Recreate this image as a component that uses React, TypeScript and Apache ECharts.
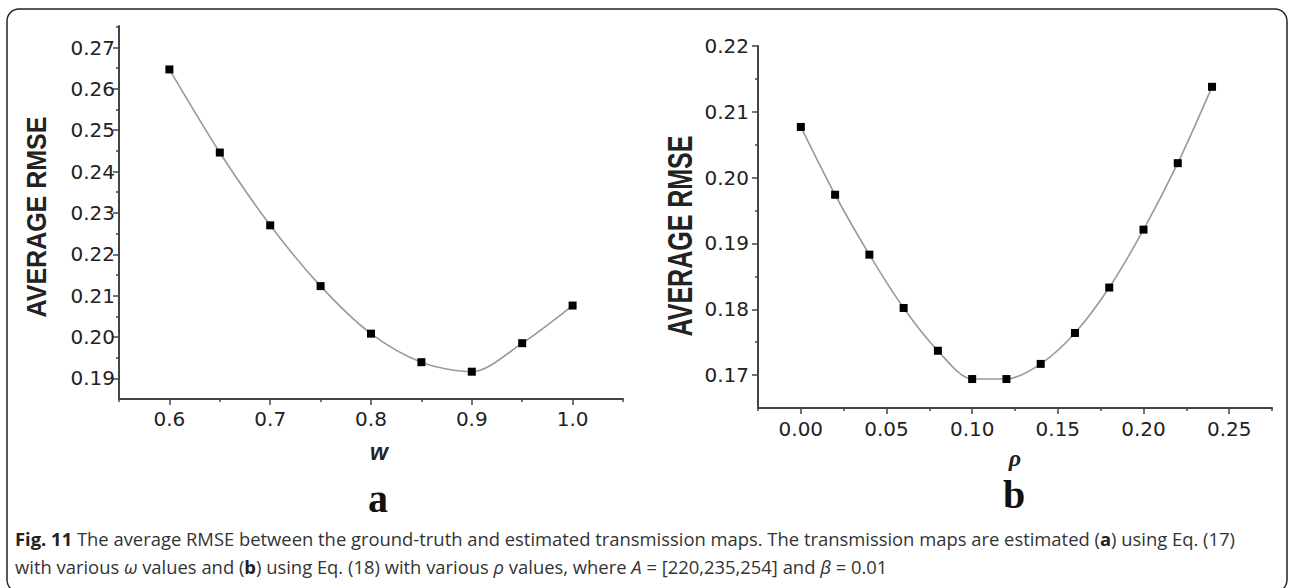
import React, { useEffect, useRef } from "react";
import * as echarts from "echarts";

// Panel (a): average RMSE against w
const wValues = [0.6, 0.65, 0.7, 0.75, 0.8, 0.85, 0.9, 0.95, 1.0];
const rmseA = [0.2647, 0.2446, 0.227, 0.2123, 0.2008, 0.1939, 0.1916, 0.1985, 0.2076];

// Panel (b): average RMSE against rho
const rhoValues = [0, 0.02, 0.04, 0.06, 0.08, 0.1, 0.12, 0.14, 0.16, 0.18, 0.2, 0.22, 0.24];
const rmseB = [0.2077, 0.1974, 0.1883, 0.1802, 0.1737, 0.1694, 0.1694, 0.1717, 0.1764, 0.1833, 0.1921, 0.2022, 0.2138];

// Tick positions
const aXMajor = [0.6, 0.7, 0.8, 0.9, 1.0];
const aXMinor = [0.55, 0.65, 0.75, 0.85, 0.95, 1.05];
const aYMajor = [0.19, 0.2, 0.21, 0.22, 0.23, 0.24, 0.25, 0.26, 0.27];
const aYMinor = [0.195, 0.205, 0.215, 0.225, 0.235, 0.245, 0.255, 0.265, 0.275];
const bXMajor = [0, 0.05, 0.1, 0.15, 0.2, 0.25];
const bXMinor = [-0.025, 0.025, 0.075, 0.125, 0.175, 0.225, 0.275];
const bYMajor = [0.17, 0.18, 0.19, 0.2, 0.21, 0.22];
const bYMinor = [0.175, 0.185, 0.195, 0.205, 0.215];

const AXIS_COLOR = "#444";
const LABEL_FONT = "DejaVu Sans";
const CAPTION_SIZE = 18.4;

const majorAxis = (
  type: "x" | "y",
  gridIndex: number,
  min: number,
  max: number,
  ticks: number[],
  digits: number,
  margin: number
) => ({
  type: "value",
  gridIndex,
  min,
  max,
  position: type === "x" ? "bottom" : "left",
  axisLine: { show: true, onZero: false, lineStyle: { color: AXIS_COLOR, width: 2 } },
  axisTick: { show: true, customValues: ticks, length: 6, lineStyle: { color: AXIS_COLOR, width: 1.5 } },
  axisLabel: {
    show: true,
    customValues: ticks,
    margin,
    color: "#222",
    fontSize: 20,
    fontFamily: LABEL_FONT,
    formatter: (v: number) => v.toFixed(digits),
  },
  splitLine: { show: false },
});

const minorAxis = (type: "x" | "y", gridIndex: number, min: number, max: number, ticks: number[]) => ({
  type: "value",
  gridIndex,
  min,
  max,
  position: type === "x" ? "bottom" : "left",
  axisLine: { show: false, onZero: false },
  axisTick: { show: true, customValues: ticks, length: 3, lineStyle: { color: AXIS_COLOR, width: 1.5 } },
  axisLabel: { show: false },
  splitLine: { show: false },
});

const lineSeries = (xs: number[], ys: number[], xAxisIndex: number, yAxisIndex: number) => ({
  type: "line",
  xAxisIndex,
  yAxisIndex,
  data: xs.map((x, i) => [x, ys[i]]),
  smooth: 0.3,
  symbol: "rect",
  symbolSize: 8,
  itemStyle: { color: "#000" },
  lineStyle: { color: "#9a9a9a", width: 1.6 },
  clip: false,
});

const captionRich = {
  b: { fontWeight: "bold", fontFamily: "Open Sans", fontSize: CAPTION_SIZE, fill: "#222", color: "#222" },
  i: { fontStyle: "italic", fontFamily: "Open Sans", fontSize: CAPTION_SIZE, fill: "#333", color: "#333" },
};

export default function App() {
  const ref = useRef<HTMLDivElement>(null);

  useEffect(() => {
    if (!ref.current) return;
    const chart = echarts.init(ref.current, undefined, { renderer: "svg" });
    chart.setOption({
      animation: false,
      backgroundColor: "#fff",
      grid: [
        { left: 119, top: 26, width: 504, height: 373 },
        { left: 758, top: 46, width: 514, height: 362 },
      ],
      xAxis: [
        majorAxis("x", 0, 0.55, 1.05, aXMajor, 1, 10),
        minorAxis("x", 0, 0.55, 1.05, aXMinor),
        majorAxis("x", 1, -0.025, 0.275, bXMajor, 2, 11),
        minorAxis("x", 1, -0.025, 0.275, bXMinor),
      ],
      yAxis: [
        majorAxis("y", 0, 0.185, 0.2752, aYMajor, 2, 4),
        minorAxis("y", 0, 0.185, 0.2752, aYMinor),
        majorAxis("y", 1, 0.165, 0.22, bYMajor, 2, 9),
        minorAxis("y", 1, 0.165, 0.22, bYMinor),
      ],
      series: [lineSeries(wValues, rmseA, 0, 0), lineSeries(rhoValues, rmseB, 2, 2)],
      graphic: [
        {
          type: "rect",
          shape: { x: 7, y: 9, width: 1280, height: 583, r: 12 },
          style: { fill: "none", stroke: "#222", lineWidth: 1.5 },
          silent: true,
        },
        {
          type: "text",
          x: 37,
          y: 217,
          rotation: Math.PI / 2,
          scaleY: 1.08,
          style: {
            text: "AVERAGE RMSE",
            align: "center",
            verticalAlign: "middle",
            font: 'bold 25px "Liberation Sans"',
            fill: "#222",
          },
        },
        {
          type: "text",
          x: 679,
          y: 236,
          rotation: Math.PI / 2,
          scaleY: 1.4,
          style: {
            text: "AVERAGE RMSE",
            align: "center",
            verticalAlign: "middle",
            font: 'bold 25px "Liberation Sans"',
            fill: "#222",
          },
        },
        {
          type: "text",
          x: 379,
          y: 452,
          style: {
            text: "w",
            align: "center",
            verticalAlign: "middle",
            font: 'italic bold 23px "Liberation Sans"',
            fill: "#222",
          },
        },
        {
          type: "text",
          x: 1015,
          y: 458,
          style: {
            text: "ρ",
            align: "center",
            verticalAlign: "middle",
            font: 'italic bold 24px "Liberation Serif"',
            fill: "#222",
          },
        },
        {
          type: "text",
          x: 378,
          y: 498,
          style: {
            text: "a",
            align: "center",
            verticalAlign: "middle",
            font: 'bold 40px "Liberation Serif"',
            fill: "#111",
          },
        },
        {
          type: "text",
          x: 1014,
          y: 494,
          style: {
            text: "b",
            align: "center",
            verticalAlign: "middle",
            font: 'bold 40px "Liberation Serif"',
            fill: "#111",
          },
        },
        {
          type: "text",
          x: 15,
          y: 538,
          style: {
            text:
              "{b|Fig. 11} The average RMSE between the ground-truth and estimated transmission maps. The transmission maps are estimated ({b|a}) using Eq. (17)",
            verticalAlign: "middle",
            font: `${CAPTION_SIZE}px "Open Sans"`,
            fill: "#333",
            rich: captionRich,
          },
        },
        {
          type: "text",
          x: 15,
          y: 566,
          style: {
            text:
              "with various {i|ω} values and ({b|b}) using Eq. (18) with various {i|ρ} values, where {i|A} = [220,235,254] and {i|β} = 0.01",
            verticalAlign: "middle",
            font: `${CAPTION_SIZE}px "Open Sans"`,
            fill: "#333",
            rich: captionRich,
          },
        },
      ],
    });
    return () => chart.dispose();
  }, []);

  return (
    <div
      ref={ref}
      style={{ position: "fixed", left: 0, top: 0, width: 1290, height: 588, background: "#fff" }}
    />
  );
}
